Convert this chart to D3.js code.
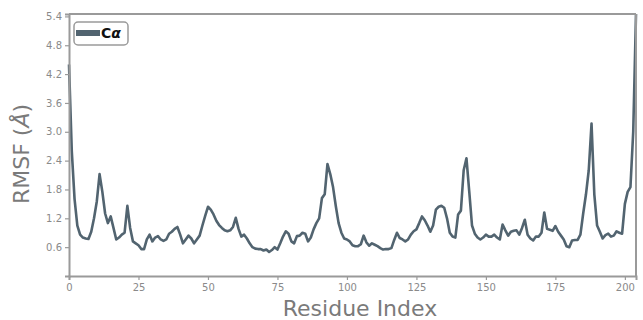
<!DOCTYPE html>
<html>
<head>
<meta charset="utf-8">
<script src="https://cdn.jsdelivr.net/npm/d3@7"></script>
<style>
  html, body { margin: 0; padding: 0; background: #fff; }
  svg { display: block; }
  text { font-family: "DejaVu Sans", sans-serif; }
</style>
</head>
<body>
<svg id="chart" width="643" height="320"></svg>
<script>
const residues = d3.range(0, 205);
const rmsf = [
  4.4, 2.6, 1.6, 1.05, 0.86, 0.8, 0.78, 0.77, 0.92, 1.2,
  1.55, 2.12, 1.75, 1.3, 1.1, 1.24, 1.0, 0.76, 0.8, 0.86,
  0.9, 1.46, 1.0, 0.72, 0.68, 0.64, 0.56, 0.56, 0.76, 0.86,
  0.72, 0.8, 0.83, 0.76, 0.73, 0.76, 0.88, 0.92, 0.98, 1.02,
  0.86, 0.68, 0.76, 0.84, 0.78, 0.68, 0.76, 0.84, 1.05, 1.25,
  1.44, 1.38, 1.28, 1.15, 1.06, 1.0, 0.95, 0.93, 0.95, 1.02,
  1.21, 0.98, 0.82, 0.86, 0.78, 0.68, 0.6, 0.57, 0.56, 0.56,
  0.53, 0.55, 0.5, 0.54, 0.6, 0.55, 0.68, 0.82, 0.93, 0.88,
  0.72, 0.68, 0.83, 0.84, 0.9, 0.88, 0.72, 0.8, 0.97, 1.1,
  1.2, 1.62, 1.7, 2.33, 2.12, 1.85, 1.45, 1.1, 0.9, 0.78,
  0.76, 0.72, 0.64, 0.62, 0.62, 0.66, 0.84, 0.7, 0.63, 0.68,
  0.65, 0.62, 0.58, 0.55, 0.56, 0.56, 0.58, 0.75, 0.9, 0.79,
  0.76, 0.72, 0.76, 0.86, 0.93, 0.97, 1.1, 1.24, 1.16, 1.05,
  0.92, 1.05, 1.38, 1.44, 1.46, 1.42, 1.2, 0.9, 0.82, 0.8,
  1.28, 1.36, 2.2, 2.45, 1.76, 1.05, 0.88, 0.8, 0.76, 0.8,
  0.86, 0.82, 0.82, 0.86, 0.8, 0.76, 1.07, 0.95, 0.84, 0.92,
  0.94, 0.95, 0.86, 1.0, 1.17, 0.86, 0.78, 0.74, 0.82, 0.82,
  0.9, 1.32, 0.98, 0.96, 0.94, 1.04, 0.92, 0.84, 0.76, 0.62,
  0.6, 0.74, 0.75, 0.75, 0.86, 1.3, 1.7, 2.2, 3.17, 1.7,
  1.05, 0.92, 0.78, 0.85, 0.88, 0.82, 0.84, 0.93, 0.9, 0.88,
  1.5, 1.75, 1.85, 3.0, 5.45
];
const xTicks = [0, 25, 50, 75, 100, 125, 150, 175, 200];
const yTicks = [0.6, 1.2, 1.8, 2.4, 3.0, 3.6, 4.2, 4.8, 5.4];

const W = 643, H = 320;
const margin = { top: 14, right: 7, bottom: 44, left: 69 };
const iw = W - margin.left - margin.right;
const ih = H - margin.top - margin.bottom;

const svg = d3.select("#chart");
const g = svg.append("g").attr("transform", `translate(${margin.left},${margin.top})`);

const x = d3.scaleLinear().domain([0, 204]).range([0, iw]);
const y = d3.scaleLinear().domain([0, 5.45]).range([ih, 0]);

const spineColor = "#9a9a9a";
const tickTextColor = "#8a8a8a";
const lineColor = "#526470";

// line
const line = d3.line().x((d, i) => x(residues[i])).y(d => y(d));
g.append("path")
  .datum(rmsf)
  .attr("fill", "none")
  .attr("stroke", lineColor)
  .attr("stroke-width", 2.6)
  .attr("stroke-linejoin", "round")
  .attr("d", line);

// axes
const xAxis = g.append("g").attr("transform", `translate(0,${ih})`)
  .call(d3.axisBottom(x).tickValues(xTicks).tickSize(4).tickPadding(4).tickFormat(d3.format("d")));
const yAxis = g.append("g")
  .call(d3.axisLeft(y).tickValues(yTicks).tickSize(4).tickPadding(3).tickFormat(d3.format(".1f")));

[xAxis, yAxis].forEach(a => {
  a.select(".domain").attr("stroke", spineColor).attr("stroke-width", 2);
  a.selectAll(".tick line").attr("stroke", spineColor).attr("stroke-width", 1.2);
  a.selectAll(".tick text").attr("fill", tickTextColor).style("font-size", "10px");
});

// top & right spines
g.append("line").attr("x1", 0).attr("x2", iw).attr("y1", 0).attr("y2", 0)
  .attr("stroke", spineColor).attr("stroke-width", 2);
g.append("line").attr("x1", iw).attr("x2", iw).attr("y1", 0).attr("y2", ih)
  .attr("stroke", spineColor).attr("stroke-width", 2);

// axis labels
svg.append("text")
  .attr("x", 360)
  .attr("y", 316)
  .attr("text-anchor", "middle")
  .attr("fill", "#7a7a7a")
  .style("font-size", "22px")
  .text("Residue Index");

const yl = svg.append("text")
  .attr("transform", `translate(29,154) rotate(-90)`)
  .attr("text-anchor", "middle")
  .attr("fill", "#7a7a7a")
  .style("font-size", "22px");
yl.append("tspan").text("RMSF (");
yl.append("tspan").style("font-style", "italic").text("Å");
yl.append("tspan").text(")");

// legend
const lg = svg.append("g").attr("transform", "translate(74,22)");
lg.append("rect").attr("x", 0).attr("y", 0).attr("width", 54).attr("height", 23)
  .attr("rx", 4).attr("fill", "#fff").attr("stroke", "#9a9a9a").attr("stroke-width", 1.5);
lg.append("line").attr("x1", 2).attr("x2", 26).attr("y1", 11).attr("y2", 11)
  .attr("stroke", lineColor).attr("stroke-width", 6);
const lt = lg.append("text").attr("x", 27).attr("y", 16)
  .attr("fill", "#111").style("font-size", "14px").style("font-weight", "bold");
lt.append("tspan").text("C");
lt.append("tspan").style("font-style", "italic").text("α");
</script>
</body>
</html>
